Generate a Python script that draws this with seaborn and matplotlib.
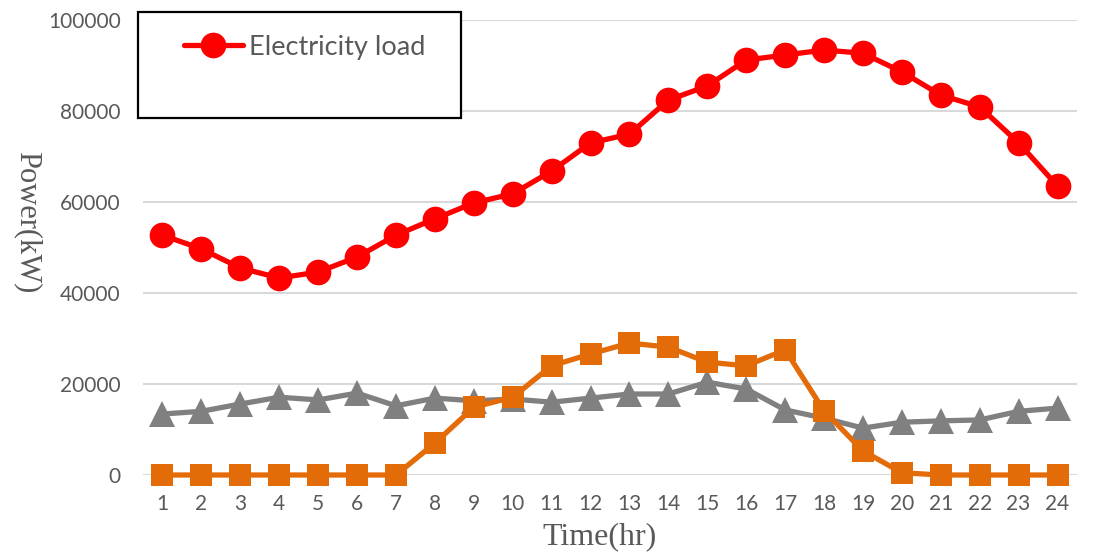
import numpy as np
import pandas as pd
import matplotlib
matplotlib.use("Agg")
import matplotlib.pyplot as plt
from matplotlib.patches import Rectangle
import seaborn as sns

# Data
hours = list(range(1, 25))
load = [52700, 49700, 45500, 43300, 44600, 47900, 52700, 56300, 59800, 61800, 66800, 73000,
        74900, 82400, 85500, 91200, 92300, 93400, 92700, 88600, 83500, 80900, 73000, 63500]
pv_output = [0, 0, 0, 0, 0, 0, 0, 7000, 14900, 17100, 24000, 26600,
             29000, 28100, 24800, 24000, 27500, 14100, 5300, 500, 0, 0, 0, 0]
wind_output = [13400, 14000, 15600, 17100, 16500, 18000, 15200, 16900, 16300, 16700, 16000, 16900,
               17800, 17800, 20400, 18900, 14300, 12500, 10300, 11600, 11900, 12100, 14000, 14700]
yticks = [0, 20000, 40000, 60000, 80000, 100000]

df = pd.DataFrame({"hour": hours, "load": load, "pv": pv_output, "wind": wind_output})

sns.set_style("white")
plt.rcParams["font.family"] = ["Lato", "DejaVu Sans"]

fig = plt.figure(figsize=(11.05, 5.59), dpi=100)
ax = fig.add_axes([143 / 1105, 1 - 475 / 559, 934 / 1105, 455 / 559])

sns.lineplot(data=df, x="hour", y="wind", ax=ax, color="#808080", linewidth=3.8,
             marker="^", markersize=19, markeredgewidth=0, clip_on=False, zorder=3)
sns.lineplot(data=df, x="hour", y="pv", ax=ax, color="#E36C09", linewidth=3.8,
             marker="s", markersize=15.5, markeredgewidth=0, clip_on=False, zorder=4)
sns.lineplot(data=df, x="hour", y="load", ax=ax, color="#FF0000", linewidth=3.8,
             marker="o", markersize=18.5, markeredgewidth=0, clip_on=False, zorder=5,
             label="Electricity load")

ax.set_xlim(0.5, 24.5)
ax.set_ylim(0, 100000)
ax.set_xticks(hours)
ax.set_xticklabels([str(h) for h in hours])
ax.set_yticks(yticks)
ax.set_yticklabels([str(v) for v in yticks])
ax.tick_params(length=0, labelsize=15, labelcolor="#595959")
ax.tick_params(axis="y", pad=16)
ax.tick_params(axis="x", pad=14)
ax.grid(axis="y", color="#D9D9D9", linewidth=1.5)
ax.set_axisbelow(True)
for s in ax.spines.values():
    s.set_visible(False)

ax.set_xlabel("Time(hr)", family="Liberation Serif", fontsize=23, color="#595959")
ax.set_ylabel("Power(kW)", family="Liberation Serif", fontsize=22, color="#595959", rotation=-90)
ax.xaxis.label.set_va("center")
ax.yaxis.label.set_va("center")
ax.xaxis.set_label_coords((600 - 143) / 934, (475 - 537) / 455)
ax.yaxis.set_label_coords((27 - 143) / 934, (475 - 222) / 455)

# legend box (larger than its single entry, as in the original)
ax.add_patch(Rectangle((138 / 1105, 1 - 118 / 559), 323 / 1105, 106 / 559,
                       transform=fig.transFigure, facecolor="white", edgecolor="black",
                       linewidth=1.6, clip_on=False, zorder=8))
leg = ax.legend(loc="center left", bbox_to_anchor=(170 / 1105, 1 - 47 / 559),
                bbox_transform=fig.transFigure, frameon=False, borderpad=0,
                handlelength=2.2, handletextpad=0.2, fontsize=19.5)
leg.set_zorder(10)
for t in leg.get_texts():
    t.set_color("#595959")

fig.savefig("out.png", dpi=100)
